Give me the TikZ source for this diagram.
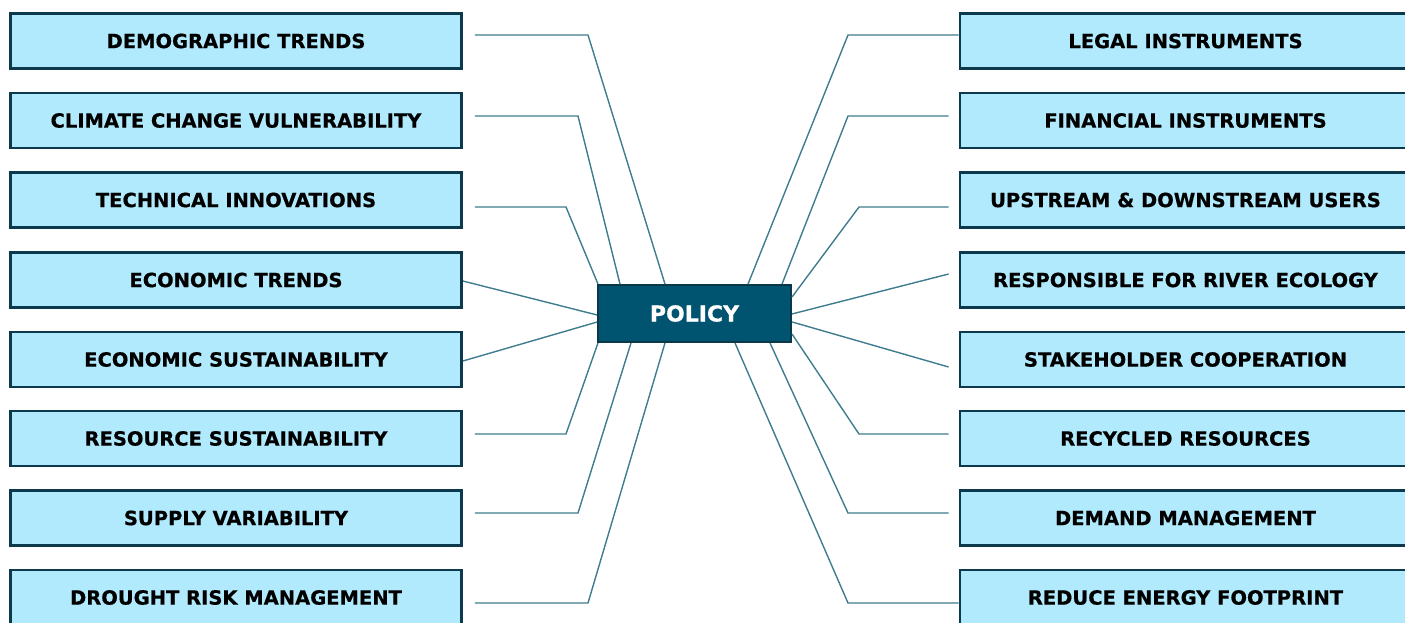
\documentclass[tikz,border=0pt]{standalone}
\usepackage{fontspec}
\setmainfont{DejaVu Sans}[BoldFeatures={FakeBold=0.6}]
\definecolor{boxfill}{HTML}{B0EAFC}
\definecolor{boxline}{HTML}{0C3A4C}
\definecolor{hubfill}{HTML}{005470}
\definecolor{hubline}{HTML}{0A3848}
\definecolor{linkcol}{HTML}{3E7C8E}
\begin{document}
\begin{tikzpicture}[x=1pt,y=-1pt,
  item/.style={draw=boxline, fill=boxfill, line width=2.8pt, minimum width=451pt, minimum height=55pt, inner sep=0pt, font=\fontsize{19.5}{21}\selectfont\bfseries, text=black},
  hub/.style={draw=hubline, fill=hubfill, line width=1.6pt, minimum width=193.5pt, minimum height=57.5pt, inner sep=0pt, font=\fontsize{22}{24}\selectfont\bfseries, text=white},
  link/.style={draw=linkcol, line width=1.4pt}]
\useasboundingbox (0,0) rectangle (1405,622);
\clip (0,0) rectangle (1405,622);
% left boxes
\node[item] (l1) at (236,41)    {DEMOGRAPHIC TRENDS};
\node[item] (l2) at (236,120.5) {CLIMATE CHANGE VULNERABILITY};
\node[item] (l3) at (236,200)   {TECHNICAL INNOVATIONS};
\node[item] (l4) at (236,280)   {ECONOMIC TRENDS};
\node[item] (l5) at (236,359.5) {ECONOMIC SUSTAINABILITY};
\node[item] (l6) at (236,438.5) {RESOURCE SUSTAINABILITY};
\node[item] (l7) at (236,518)   {SUPPLY VARIABILITY};
\node[item] (l8) at (236,597.5) {DROUGHT RISK MANAGEMENT};
% right boxes
\node[item] (r1) at (1185.5,41)    {LEGAL INSTRUMENTS};
\node[item] (r2) at (1185.5,120.5) {FINANCIAL INSTRUMENTS};
\node[item] (r3) at (1185.5,200)   {UPSTREAM \& DOWNSTREAM USERS};
\node[item] (r4) at (1185.5,280)   {RESPONSIBLE FOR RIVER ECOLOGY};
\node[item] (r5) at (1185.5,359.5) {STAKEHOLDER COOPERATION};
\node[item] (r6) at (1185.5,438.5) {RECYCLED RESOURCES};
\node[item] (r7) at (1185.5,518)   {DEMAND MANAGEMENT};
\node[item] (r8) at (1185.5,597.5) {REDUCE ENERGY FOOTPRINT};
% hub
\node[hub] (policy) at (694.5,313.5) {POLICY};
% left connectors
\draw[link] ([shift={(12,-6)}]l1.east) -- (588,35) -- ([xshift=68pt]policy.north west);
\draw[link] ([shift={(12,-4.5)}]l2.east) -- (578,116) -- ([xshift=23pt]policy.north west);
\draw[link] ([shift={(12,7)}]l3.east) -- (566,207) -- ([xshift=1pt]policy.north west);
\draw[link] ([shift={(0,1)}]l4.east) -- ([shift={(0,31)}]policy.north west);
\draw[link] ([shift={(0,1.5)}]l5.east) -- ([shift={(0,-21)}]policy.south west);
\draw[link] ([shift={(12,-4.5)}]l6.east) -- (566,434) -- ([xshift=1pt]policy.south west);
\draw[link] ([shift={(12,-5)}]l7.east) -- (578,513) -- ([xshift=34pt]policy.south west);
\draw[link] ([shift={(12,5.5)}]l8.east) -- (588,603) -- ([xshift=68pt]policy.south west);
% right connectors
\draw[link] ([shift={(0,-6)}]r1.west) -- (848,35) -- ([xshift=-44pt]policy.north east);
\draw[link] ([shift={(-10,-4.5)}]r2.west) -- (848,116) -- ([xshift=-10pt]policy.north east);
\draw[link] ([shift={(-10,7)}]r3.west) -- (859,207) -- ([shift={(0,13)}]policy.north east);
\draw[link] ([shift={(-10,-6)}]r4.west) -- ([shift={(0,30)}]policy.north east);
\draw[link] ([shift={(-10,7.5)}]r5.west) -- ([shift={(0,38)}]policy.north east);
\draw[link] ([shift={(-10,-4.5)}]r6.west) -- (859,434) -- ([shift={(0,-9)}]policy.south east);
\draw[link] ([shift={(-10,-5)}]r7.west) -- (848,513) -- ([xshift=-22pt]policy.south east);
\draw[link] ([shift={(0,5.5)}]r8.west) -- (848,603) -- ([xshift=-57pt]policy.south east);
\end{tikzpicture}
\end{document}
